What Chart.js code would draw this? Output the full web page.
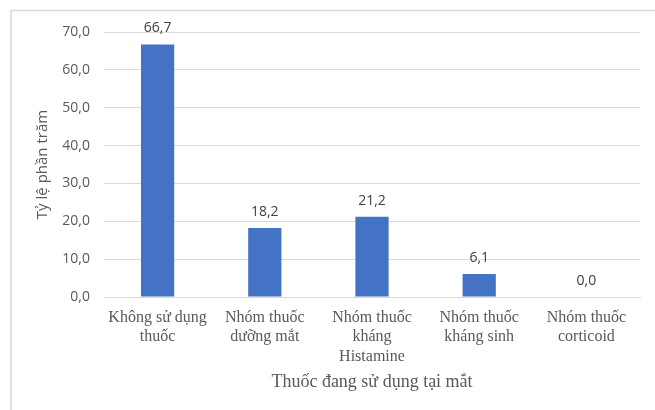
<!DOCTYPE html>
<html>
<head>
<meta charset="utf-8">
<script src="https://cdn.jsdelivr.net/npm/chart.js@4/dist/chart.umd.min.js"></script>
<style>
  html, body { margin: 0; padding: 0; background: #ffffff; }
  #wrap { position: relative; width: 655px; height: 410px; }
</style>
</head>
<body>
<div id="wrap"><canvas id="c" width="655" height="410"></canvas></div>
<script>
// Categories (multi-line labels) and percentages
const categories = [
  ["Không sử dụng", "thuốc"],
  ["Nhóm thuốc", "dưỡng mắt"],
  ["Nhóm thuốc", "kháng", "Histamine"],
  ["Nhóm thuốc", "kháng sinh"],
  ["Nhóm thuốc", "corticoid"]
];
const percentages = [66.7, 18.2, 21.2, 6.1, 0.0];
const yTicks = [0, 10, 20, 30, 40, 50, 60, 70];

const xTitle = "Thuốc đang sử dụng tại mắt";
const yTitle = "Tỷ lệ phần trăm";

const fmt = v => v.toFixed(1).replace(".", ",");

// Light frame around the figure (top and left edges)
const framePlugin = {
  id: "frame",
  beforeDraw(chart) {
    const ctx = chart.ctx;
    ctx.save();
    ctx.fillStyle = "#ffffff";
    ctx.fillRect(0, 0, chart.width, chart.height);
    ctx.strokeStyle = "#d9d9d9";
    ctx.lineWidth = 1.5;
    ctx.beginPath();
    ctx.moveTo(11, chart.height);
    ctx.lineTo(11, 10.5);
    ctx.lineTo(chart.width, 10.5);
    ctx.stroke();
    ctx.restore();
  }
};

// Value labels above each bar
const valueLabels = {
  id: "valueLabels",
  afterDatasetsDraw(chart) {
    const ctx = chart.ctx;
    const meta = chart.getDatasetMeta(0);
    ctx.save();
    ctx.font = "14px 'Open Sans', 'Liberation Sans', sans-serif";
    ctx.fillStyle = "#404040";
    ctx.textAlign = "center";
    ctx.textBaseline = "middle";
    meta.data.forEach((bar, i) => {
      const v = chart.data.datasets[0].data[i];
      ctx.fillText(fmt(v), bar.x, bar.y - 16);
    });
    ctx.restore();
  }
};

new Chart(document.getElementById("c"), {
  type: "bar",
  data: {
    labels: categories,
    datasets: [{
      data: percentages,
      backgroundColor: "#4472c4",
      borderWidth: 0,
      barPercentage: 0.31,
      categoryPercentage: 1.0
    }]
  },
  options: {
    responsive: false,
    animation: false,
    devicePixelRatio: 1,
    layout: { padding: { left: 34, top: 32, right: 15, bottom: 17 } },
    plugins: {
      legend: { display: false },
      tooltip: { enabled: false }
    },
    scales: {
      x: {
        grid: { display: false, drawTicks: false },
        border: { display: true, color: "#d9d9d9", width: 1 },
        ticks: {
          color: "#595959",
          font: { family: "'Liberation Serif', 'Times New Roman', serif", size: 16, lineHeight: 1.22 },
          padding: 11,
          maxRotation: 0,
          autoSkip: false
        },
        title: {
          display: true,
          text: xTitle,
          color: "#595959",
          font: { family: "'Liberation Serif', 'Times New Roman', serif", size: 18, lineHeight: 1.2 },
          padding: 0
        },
        afterFit(scale) { scale.height = 410 - 297 - 17; }
      },
      y: {
        min: 0,
        max: 70,
        afterBuildTicks(scale) { scale.ticks = yTicks.map(v => ({ value: v })); },
        grid: { color: "#d9d9d9", lineWidth: 1, drawTicks: false },
        border: { display: false },
        ticks: {
          color: "#595959",
          font: { family: "'Open Sans', 'Liberation Sans', sans-serif", size: 14 },
          padding: 14,
          callback: v => fmt(v)
        },
        title: {
          display: true,
          text: yTitle,
          color: "#595959",
          font: { family: "'Open Sans', 'Liberation Sans', sans-serif", size: 15 },
          padding: 0
        },
        afterFit(scale) { scale.width = 70; }
      }
    }
  },
  plugins: [framePlugin, valueLabels]
});
</script>
</body>
</html>
